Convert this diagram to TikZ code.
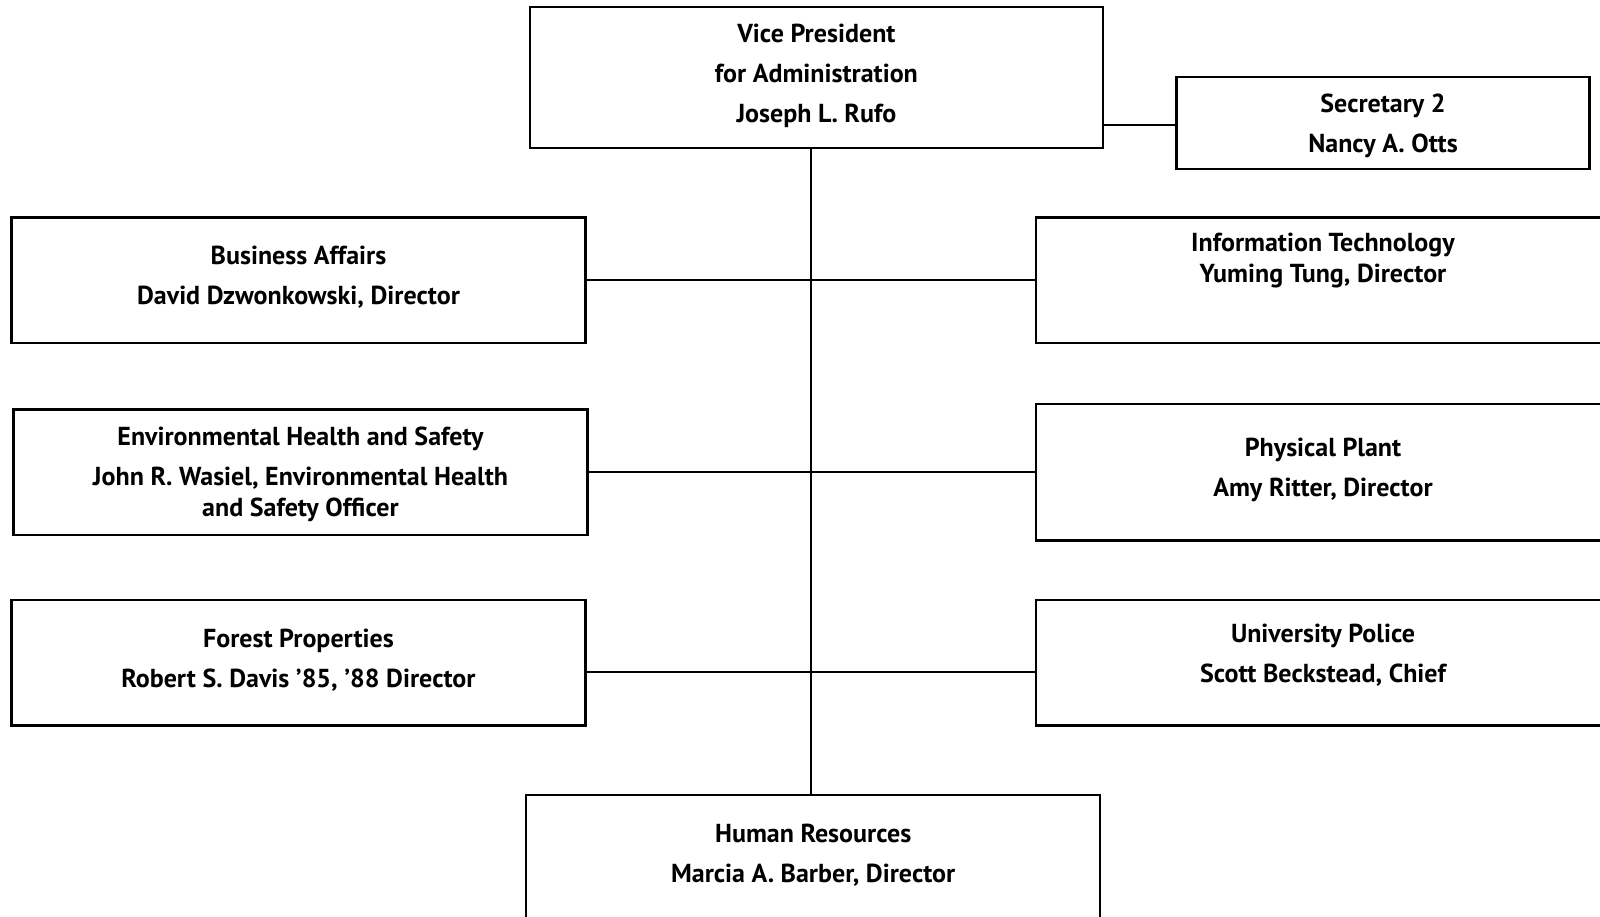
\documentclass[tikz,border=0pt]{standalone}
\usepackage{fontspec}
\setmainfont{PT Sans}
\begin{document}
\begin{tikzpicture}[x=1pt,y=-1pt,
    unit/.style={draw, line width=2.3pt, minimum width=574pt, minimum height=125.5pt, inner sep=0pt},
    txt/.style={font=\bfseries\fontsize{26}{31.6}\selectfont, align=center, inner sep=0pt},
    link/.style={line width=2pt}]
    \useasboundingbox (0,0) rectangle (1600,917);
    \clip (0,0) rectangle (1600,917);
    \def\gap{8.4pt}
    \coordinate (trunk) at (811,0);

    % top of the chart
    \node[unit, minimum width=573.5pt, minimum height=141pt] (vp) at (816.4,77.6) {};
    \node[txt] (vp-txt) at ([yshift=1.5pt]vp.center) {Vice President\\[\gap]for Administration\\[\gap]Joseph L. Rufo};
    \node[unit, minimum width=413pt, minimum height=92pt] (sec) at (1383,123) {};
    \node[txt] (sec-txt) at ([yshift=-2.5pt]sec.center) {Secretary 2\\[\gap]Nancy A. Otts};

    % left column
    \node[unit] (ba) at (298.5,280.4) {};
    \node[txt] (ba-txt) at ([yshift=3pt]ba.center) {Business Affairs\\[\gap]David Dzwonkowski, Director};
    \node[unit] (ehs) at (300.5,472.2) {};
    \node[txt] (ehs-txt) at ([yshift=-2pt]ehs.center) {Environmental Health and Safety\\[\gap]John R. Wasiel, Environmental Health\\and Safety Officer};
    \node[unit] (fp) at (298.5,662.8) {};
    \node[txt] (fp-txt) at ([yshift=2.5pt]fp.center) {Forest Properties\\[\gap]Robert S. Davis ’85, ’88 Director};

    % right column
    \node[unit] (it) at (1323,280.4) {};
    \node[txt] (it-txt) at ([yshift=20pt]it.center) {Information Technology\\Yuming Tung, Director};
    \node[unit, minimum height=136.7pt] (pp) at (1323,472.2) {};
    \node[txt] (pp-txt) at ([yshift=2pt]pp.center) {Physical Plant\\[\gap]Amy Ritter, Director};
    \node[unit] (up) at (1323,662.8) {};
    \node[txt] (up-txt) at ([yshift=7.5pt]up.center) {University Police\\[\gap]Scott Beckstead, Chief};

    % bottom
    \node[unit, minimum height=150pt] (hr) at (813.2,870) {};
    \node[txt] (hr-txt) at ([yshift=-61pt]hr.north) {Human Resources\\[\gap]Marcia A. Barber, Director};

    % connectors
    \coordinate (row0) at (811,125);
    \coordinate (row3) at (811,672.4);
    \draw[link] (vp.south -| trunk) -- (hr.north -| trunk);
    \draw[link] (vp.east |- row0) -- (sec.west |- row0);
    \draw[link] (ba.east) -- (it.west);
    \draw[link] (ehs.east) -- (pp.west);
    \draw[link] (fp.east |- row3) -- (up.west |- row3);
\end{tikzpicture}
\end{document}
